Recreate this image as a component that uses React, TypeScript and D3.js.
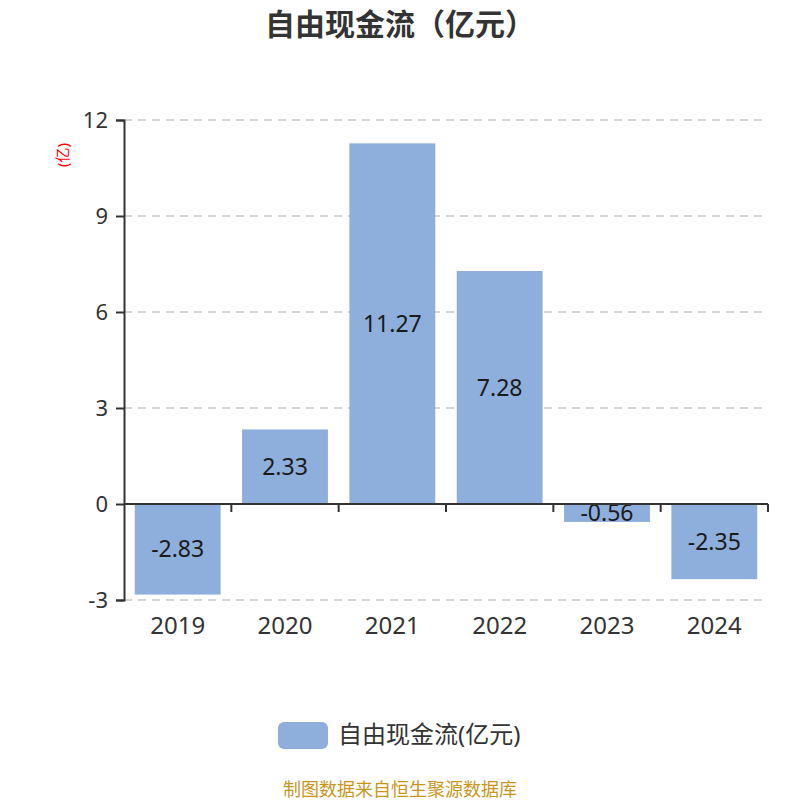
import React, { useEffect, useRef } from 'react';
import * as d3 from 'd3';

const years = ['2019', '2020', '2021', '2022', '2023', '2024'];
const values = [-2.83, 2.33, 11.27, 7.28, -0.56, -2.35];
const yTicks = [-3, 0, 3, 6, 9, 12];

const FONT = '"Noto Sans", "Noto Sans CJK SC", sans-serif';

const App: React.FC = () => {
  const svgRef = useRef<SVGSVGElement>(null);

  useEffect(() => {
    if (!svgRef.current) return;
    const svg = d3.select(svgRef.current);
    svg.selectAll('*').remove();

    const width = 800;
    const height = 800;
    const margin = { top: 120, right: 32, bottom: 200, left: 124 };
    const chartWidth = width - margin.left - margin.right;
    const chartHeight = height - margin.top - margin.bottom;

    svg.append('rect').attr('width', width).attr('height', height).attr('fill', '#fff');

    const g = svg.append('g').attr('transform', `translate(${margin.left}, ${margin.top})`);

    const x = d3.scaleBand().domain(years).range([0, chartWidth]).paddingInner(0.2).paddingOuter(0.1);
    const xBand = d3.scaleBand().domain(years).range([0, chartWidth]);
    const y = d3.scaleLinear().domain([-3, 12]).range([chartHeight, 0]);

    // Grid lines
    g.selectAll('.grid')
      .data(yTicks)
      .enter()
      .append('line')
      .attr('x1', 0)
      .attr('x2', chartWidth)
      .attr('y1', d => y(d))
      .attr('y2', d => y(d))
      .attr('stroke', '#c8c8c8')
      .attr('stroke-width', 1.5)
      .attr('stroke-dasharray', '8,6');

    // Bars
    g.selectAll('.bar')
      .data(values)
      .enter()
      .append('rect')
      .attr('x', (_, i) => x(years[i])!)
      .attr('width', x.bandwidth())
      .attr('y', d => y(Math.max(0, d)))
      .attr('height', d => Math.abs(y(d) - y(0)))
      .attr('fill', '#8eaedb');

    // Value labels
    g.selectAll('.label')
      .data(values)
      .enter()
      .append('text')
      .attr('x', (_, i) => x(years[i])! + x.bandwidth() / 2)
      .attr('y', d => (y(d) + y(0)) / 2)
      .attr('dy', '0.35em')
      .attr('text-anchor', 'middle')
      .style('font-family', FONT)
      .style('font-size', '23px')
      .style('fill', '#1a1a1a')
      .text(d => d.toFixed(2));

    // Y axis
    const yAxis = g.append('g').call(
      d3.axisLeft(y).tickValues(yTicks).tickSize(8).tickPadding(8).tickFormat(d => String(d))
    );
    yAxis.select('.domain').attr('stroke', '#333').attr('stroke-width', 2);
    yAxis.selectAll('.tick line').attr('stroke', '#333').attr('stroke-width', 2);
    yAxis.selectAll('.tick text')
      .style('font-family', FONT)
      .style('font-size', '22px')
      .style('fill', '#333');

    // Zero line with category boundary ticks
    const zero = g.append('g').attr('transform', `translate(0, ${y(0)})`);
    zero.append('line')
      .attr('x1', 0)
      .attr('x2', chartWidth)
      .attr('stroke', '#333')
      .attr('stroke-width', 2);
    zero.selectAll('.bt')
      .data(years.slice(1).concat(['end']))
      .enter()
      .append('line')
      .attr('x1', (d, i) => (i < years.length - 1 ? xBand(d)! : chartWidth))
      .attr('x2', (d, i) => (i < years.length - 1 ? xBand(d)! : chartWidth))
      .attr('y1', 0)
      .attr('y2', 8)
      .attr('stroke', '#333')
      .attr('stroke-width', 2);

    // Category labels
    g.selectAll('.cat')
      .data(years)
      .enter()
      .append('text')
      .attr('x', d => x(d)! + x.bandwidth() / 2)
      .attr('y', chartHeight + 34)
      .attr('text-anchor', 'middle')
      .style('font-family', FONT)
      .style('font-size', '24px')
      .style('fill', '#333')
      .text(d => d);

    // Unit label
    svg.append('text')
      .attr('transform', `translate(68, 155) rotate(-90)`)
      .attr('text-anchor', 'middle')
      .style('font-family', FONT)
      .style('font-size', '15px')
      .style('fill', '#ff0000')
      .text('(亿)');

    // Title
    svg.append('text')
      .attr('x', width / 2)
      .attr('y', 35)
      .attr('text-anchor', 'middle')
      .style('font-family', FONT)
      .style('font-size', '30px')
      .style('font-weight', 'bold')
      .style('fill', '#333')
      .text('自由现金流（亿元）');

    // Legend
    svg.append('rect')
      .attr('x', 278)
      .attr('y', 722)
      .attr('width', 50)
      .attr('height', 27)
      .attr('rx', 6)
      .attr('fill', '#8eaedb');
    svg.append('text')
      .attr('x', 338)
      .attr('y', 735)
      .attr('dy', '0.35em')
      .style('font-family', FONT)
      .style('font-size', '24px')
      .style('fill', '#333')
      .text('自由现金流(亿元)');

    // Source
    svg.append('text')
      .attr('x', width / 2)
      .attr('y', 790)
      .attr('dy', '0.35em')
      .attr('text-anchor', 'middle')
      .style('font-family', FONT)
      .style('font-size', '18px')
      .style('fill', '#c8961e')
      .text('制图数据来自恒生聚源数据库');
  }, []);

  return (
    <div style={{ position: 'absolute', left: 0, top: 0 }}>
      <svg ref={svgRef} width={800} height={800}></svg>
    </div>
  );
};

export default App;
